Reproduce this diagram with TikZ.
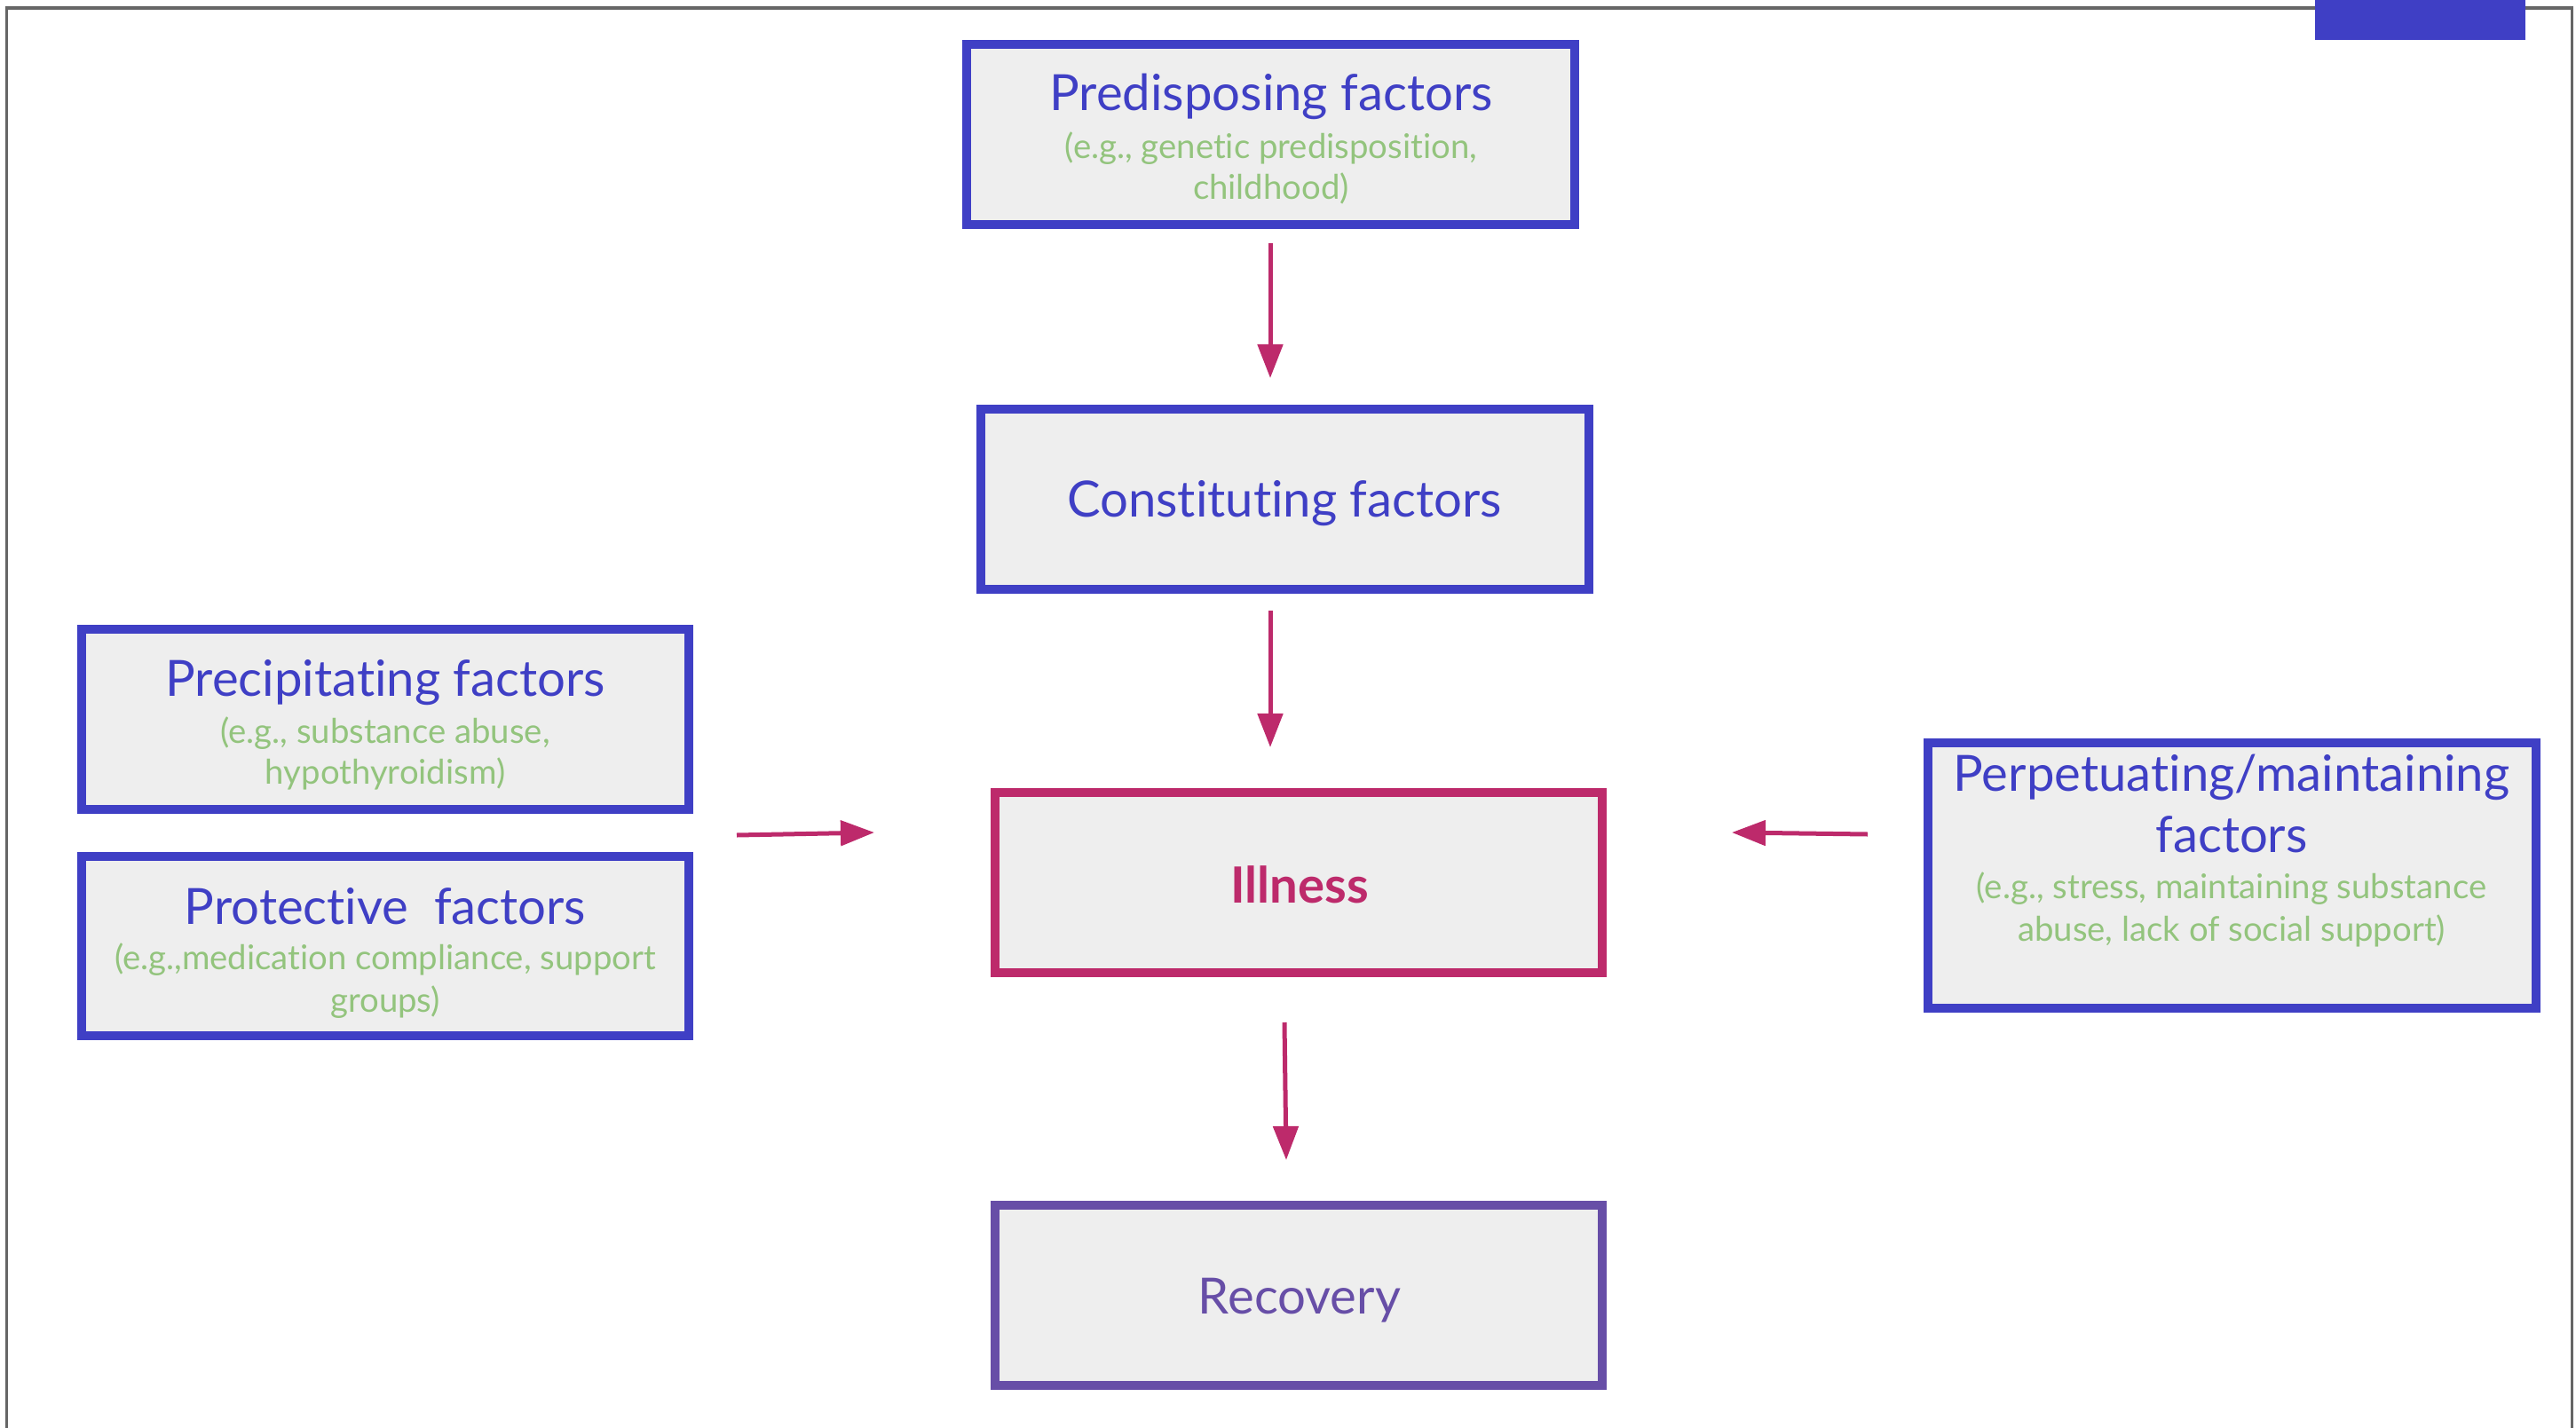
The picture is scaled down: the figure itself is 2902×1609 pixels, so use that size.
\documentclass[tikz,border=0pt]{standalone}
\usepackage{fontspec}
\setmainfont[Ligatures={NoCommon}]{Lato}
\usetikzlibrary{arrows.meta}
\definecolor{boxblue}{HTML}{3F3FC5}
\definecolor{mag}{HTML}{BD2A6B}
\definecolor{lgreen}{HTML}{93C47D}
\definecolor{boxfill}{HTML}{EEEEEE}
\definecolor{purp}{HTML}{674EA7}
\definecolor{framegray}{HTML}{666666}
\begin{document}
\begin{tikzpicture}[x=0.01cm,y=-0.01cm,
  fbox/.style={draw=boxblue, fill=boxfill, line width=0.1cm, rectangle, inner sep=0pt,
    minimum width=6.84cm, minimum height=2.02cm},
  ttl/.style={text=boxblue, font=\fontsize{16}{19}\selectfont, anchor=base, inner sep=0pt},
  sub/.style={text=lgreen, font=\fontsize{10.9}{13}\selectfont, anchor=base, inner sep=0pt},
  arr/.style={draw=mag, line width=0.05cm, -{Triangle[length=0.38cm,width=0.28cm]}}]
\useasboundingbox (0,0) rectangle (2902,1609);
% frame
\draw[framegray, line width=0.03cm] (7.5,1620) -- (7.5,9) -- (2897,9) -- (2897,1620);
\fill[boxblue] (2608,0) rectangle (2845,45);
% boxes
\node[fbox] (pre) at (1431.5,151.5) {};
\node[fbox] (con) at (1447.5,562.5) {};
\node[fbox] (prec) at (434,810.5) {};
\node[fbox] (prot) at (434,1066) {};
\node[fbox, draw=mag] (ill) at (1463,994.5) {};
\node[fbox, minimum height=2.98cm] (perp) at (2514.5,986.5) {};
\node[fbox, draw=purp] (rec) at (1463,1459.5) {};
% texts
\node[ttl] (preT) at (1432,124) {Predisposing factors};
\node[sub] (preS1) at (1432,178) {(e.g., genetic predisposition,};
\node[sub] (preS2) at (1432,224) {childhood)};
\node[ttl] (conT) at (1447,582) {Constituting factors};
\node[ttl] (precT) at (434,784) {Precipitating factors};
\node[sub] (precS1) at (434,837) {(e.g., substance abuse,};
\node[sub] (precS2) at (434,883) {hypothyroidism)};
\node[ttl] (protT) at (434,1041) {Protective\ \ factors};
\node[sub] (protS1) at (434,1092) {(e.g.,medication compliance, support};
\node[sub] (protS2) at (434,1140) {groups)};
\node[ttl] (perpT1) at (2514,891) {Perpetuating/maintaining};
\node[ttl] (perpT2) at (2514,960) {factors};
\node[sub] (perpS1) at (2514,1012) {(e.g., stress, maintaining substance};
\node[sub] (perpS2) at (2514,1060) {abuse, lack of social support)};
\node[ttl, text=mag, font=\fontsize{16}{19}\selectfont\bfseries] (illT) at (1464,1017) {Illness};
\node[ttl, text=purp] (recT) at (1464,1480) {Recovery};
% arrow ends
\coordinate (a1s) at (1431,274); \coordinate (a1e) at (1431,426);
\coordinate (a2s) at (1431,688); \coordinate (a2e) at (1431,842);
\coordinate (a3s) at (830,941);  \coordinate (a3e) at (985,938);
\coordinate (a4s) at (2104,940); \coordinate (a4e) at (1951,938);
\coordinate (a5s) at (1447,1152); \coordinate (a5e) at (1449,1307);
\draw[arr] (a1s) -- (a1e);
\draw[arr] (a2s) -- (a2e);
\draw[arr] (a3s) -- (a3e);
\draw[arr] (a4s) -- (a4e);
\draw[arr] (a5s) -- (a5e);
\end{tikzpicture}
\end{document}
